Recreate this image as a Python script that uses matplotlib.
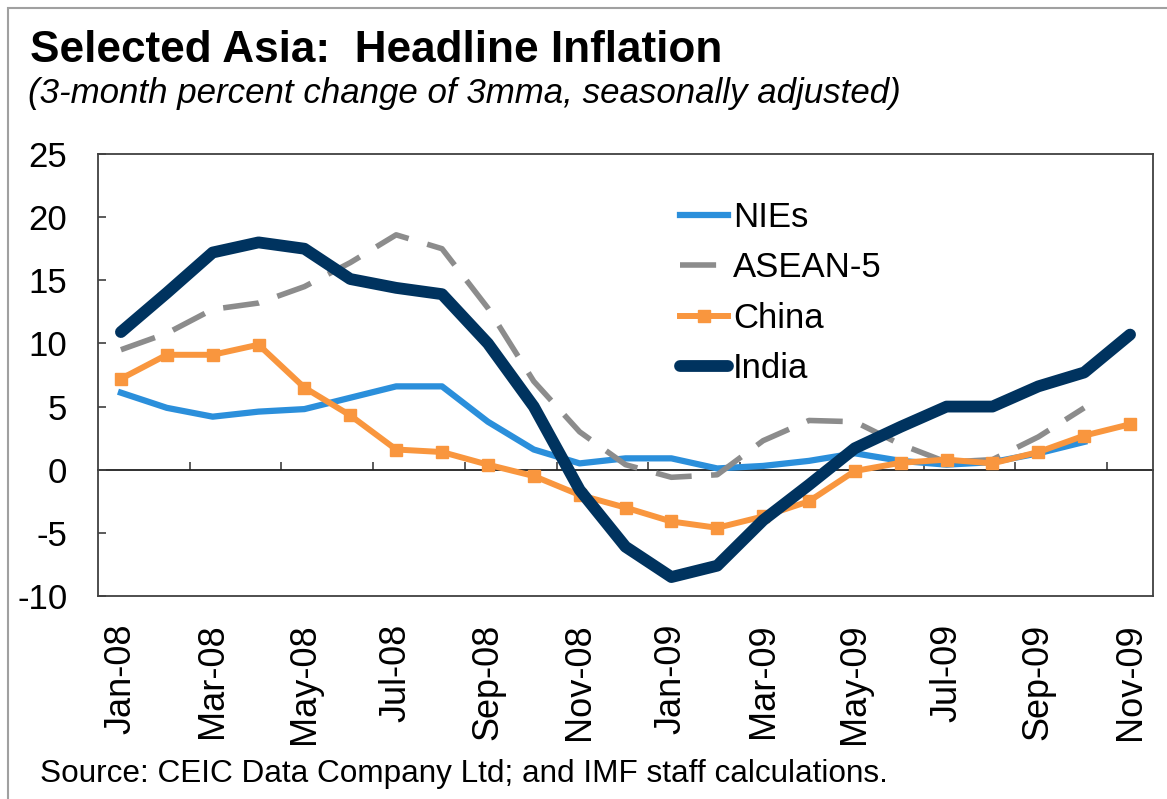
import numpy as np
import matplotlib
matplotlib.use("Agg")
import matplotlib.pyplot as plt
from matplotlib.patches import Rectangle

plt.rcParams['font.family'] = ['Liberation Sans', 'DejaVu Sans']
plt.rcParams['axes.unicode_minus'] = False

months = ["Jan-08", "Feb-08", "Mar-08", "Apr-08", "May-08", "Jun-08", "Jul-08", "Aug-08",
          "Sep-08", "Oct-08", "Nov-08", "Dec-08", "Jan-09", "Feb-09", "Mar-09", "Apr-09",
          "May-09", "Jun-09", "Jul-09", "Aug-09", "Sep-09", "Oct-09", "Nov-09"]

nies = [6.1, 4.9, 4.2, 4.6, 4.8, 5.7, 6.6, 6.6, 3.8, 1.6, 0.5, 0.9,
        0.9, 0.1, 0.3, 0.7, 1.3, 0.7, 0.4, 0.6, 1.3, 2.2, np.nan]
asean = [9.5, 10.8, 12.7, 13.2, 14.5, 16.4, 18.6, 17.5, 12.8, 7.0, 3.0, 0.4,
         -0.6, -0.4, 2.3, 3.9, 3.8, 2.0, 0.6, 0.8, 2.6, 4.9, np.nan]
china = [7.2, 9.1, 9.1, 9.9, 6.5, 4.3, 1.6, 1.4, 0.4, -0.5, -2.0, -3.0,
         -4.1, -4.6, -3.7, -2.5, -0.1, 0.55, 0.8, 0.5, 1.4, 2.7, 3.6]
india = [10.9, 14.0, 17.2, 18.0, 17.5, 15.1, 14.4, 13.9, 10.0, 5.0, -1.6, -6.1,
         -8.5, -7.6, -4.0, -1.2, 1.7, 3.4, 5.0, 5.0, 6.6, 7.7, 10.7]

x = np.arange(len(months))

fig = plt.figure(figsize=(11.67, 7.99), dpi=100)
ax = fig.add_axes([98 / 1167, 1 - 596 / 799, (1153 - 98) / 1167, (596 - 154) / 799])

ax.plot(x, nies, color='#2B8FDB', lw=4.5, label='NIEs', solid_joinstyle='round')
ax.plot(x, asean, color='#8C8C8C', lw=4, dashes=(6.5, 3.5), label='ASEAN-5')
ax.plot(x, china, color='#F9963E', lw=4.3, marker='s', ms=9, label='China')
ax.plot(x, india, color='#00335F', lw=8.5, label='India',
        solid_joinstyle='round', solid_capstyle='round')

ax.set_xlim(-0.5, len(months) - 0.5)
ax.set_ylim(-10, 25)
ax.set_yticks(np.arange(-10, 26, 5))
ax.tick_params(axis='y', direction='in', length=6, width=1.2, color='#404040',
               labelsize=25, pad=22)
ax.set_xticks(x[::2])
ax.set_xticklabels(months[::2], rotation=90, fontsize=26)
ax.tick_params(axis='x', length=0, pad=20)

for s in ax.spines.values():
    s.set_color('#404040')
    s.set_linewidth(1.3)

# zero line with category ticks
zax = ax.secondary_xaxis(10 / 35)
zax.set_xticks(np.arange(1.5, len(months) - 1, 2))
zax.set_xticklabels([])
zax.tick_params(direction='in', length=6, width=1.2, color='#404040')
zax.spines['bottom'].set_color('#202020')
zax.spines['bottom'].set_linewidth(1.3)

leg = ax.legend(loc='upper left', bbox_to_anchor=(680 / 1167, 1 - 201 / 799),
                bbox_transform=fig.transFigure, frameon=False, fontsize=25,
                handlelength=1.38, handletextpad=0.15, labelspacing=0.5,
                borderpad=0, borderaxespad=0, numpoints=1)

fig.text(30 / 1167, 1 - 62 / 799, "Selected Asia:  Headline Inflation",
         fontsize=31.8, fontweight='bold', va='baseline', ha='left')
fig.text(28 / 1167, 1 - 103 / 799,
         "(3-month percent change of 3mma, seasonally adjusted)",
         fontsize=25.1, style='italic', va='baseline', ha='left')
fig.text(40 / 1167, 1 - 782 / 799,
         "Source: CEIC Data Company Ltd; and IMF staff calculations.",
         fontsize=22.7, va='baseline', ha='left')

fig.patches.append(Rectangle((8 / 1167, -0.1), 1.2, 1.1 - 8 / 799,
                             transform=fig.transFigure, fill=False,
                             edgecolor='#A0A0A0', lw=1.5))

fig.savefig("out.png", dpi=100)
